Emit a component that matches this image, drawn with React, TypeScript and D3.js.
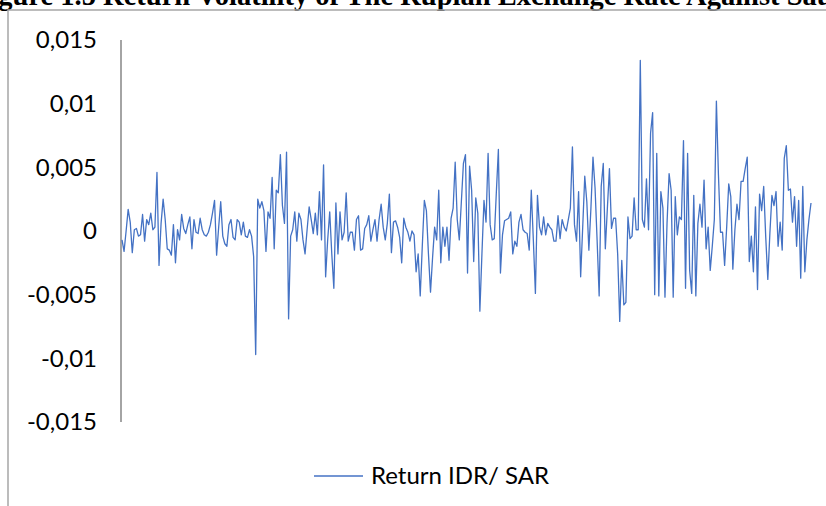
import React from "react";
import * as d3 from "d3";

const title = "Figure 1.5 Return Volatility of The Rupiah Exchange Rate Against Saudi Riyal";
const seriesName = "Return IDR/ SAR";
const yTicks = [0.015, 0.01, 0.005, 0, -0.005, -0.01, -0.015];
const yTickLabels = ["0,015", "0,01", "0,005", "0", "-0,005", "-0,01", "-0,015"];

// daily return (in units of 0.001)
const returnIdrSar = [
  -0.7, -1.6, 0.0, 1.7, 0.7, -1.7, 0.1, 0.2, -0.4, -0.3, 1.3, -0.8, 0.9, 0.5, 1.4, 0.1, 0.3, 4.6,
  -2.7, 0.6, 2.5, 0.9, -1.4, -1.5, -1.9, 0.5, -2.5, 0.1, -0.7, 1.3, 0.2, -0.2, 0.5, 1.1, -1.4, 0.9,
  -0.1, -0.2, 1.0, 0.1, -0.3, -0.4, -0.1, 0.5, 1.4, 2.4, -1.9, 0.3, 2.3, -0.4, -1.0, -1.2, 0.5, 0.9,
  -0.5, -0.7, 0.9, 0.7, -0.3, 0.7, -0.4, -0.5, 0.1, -0.4, -2.0, -9.7, 2.5, 1.8, 2.3, 1.6, -1.6, 1.5,
  1.0, 4.2, -1.4, 3.2, 3.0, 6.0, 2.0, 0.6, 6.2, -6.9, -0.4, 0.1, 1.5, -0.8, 1.4, 0.9, -0.7, -1.8,
  0.1, 1.9, 0.9, -0.2, 1.4, -0.3, 3.1, -0.7, 5.2, -3.6, -0.7, 1.5, -1.8, -4.5, 2.2, -1.8, 1.5, -0.7,
  -0.1, 3.0, -0.8, -0.1, -0.1, -1.5, 0.9, 1.2, -1.5, -1.4, 0.2, 0.5, 1.2, -0.8, 0.1, 0.9, -0.8, 0.9,
  2.1, 0.3, -0.7, 0.6, 2.9, -1.7, 0.7, 0.8, 0.3, -0.5, -2.5, 1.0, 0.3, -0.1, -0.8, 0.0, -0.3, -3.2,
  -1.8, -5.1, -1.2, 2.4, 1.6, -1.8, -4.8, -2.1, 0.3, -0.7, 3.2, -2.5, 0.3, -1.2, 0.3, -2.3, 1.0, 1.8,
  5.4, 0.9, -0.7, 2.3, 5.3, 6.0, -3.3, 5.1, 3.2, -2.4, 2.6, 1.4, -6.3, -1.8, 2.4, 0.7, 6.1, 0.5,
  -0.7, -0.6, 3.0, 6.4, -3.3, -0.3, 0.8, 0.9, 1.0, 1.5, -1.8, -0.8, -1.2, 0.7, 1.3, 0.1, -0.1, -0.2,
  -1.5, 3.2, -0.7, -4.9, 2.8, 0.3, -0.3, 1.1, -0.3, 0.6, 0.3, 0.1, -0.8, -0.8, 1.2, -0.6, 0.9, 0.3,
  0.0, 0.9, 1.8, 6.6, 0.5, -0.8, 3.1, -3.6, 0.3, 4.3, 2.3, -1.5, 1.8, 5.8, 3.4, -0.7, -5.1, 3.5,
  5.3, -1.4, 1.8, 4.9, 0.2, 1.0, 1.0, -1.8, -7.1, -2.3, -5.8, -5.6, 1.1, -0.6, -0.4, 2.6, 0.1, 0.1,
  13.4, 0.9, 0.3, 4.1, 0.1, 7.7, 9.3, -5.0, 6.1, -5.1, 3.1, 1.8, -5.2, 0.6, 4.5, 3.2, -5.2, 2.7,
  -0.3, 1.1, 0.9, 7.1, -4.5, 6.1, -3.1, -4.9, 2.8, -5.1, 0.6, 2.1, 0.3, 4.0, -1.4, 0.3, -3.1, -1.2,
  0.9, 10.2, 4.4, -0.1, -0.1, -2.7, 0.3, 3.7, 2.7, -3.0, 0.1, 2.1, 0.9, 3.9, 3.9, 4.9, 5.8, -2.4,
  -0.4, -3.2, 1.9, -4.6, 2.9, 1.6, 3.5, -0.5, -3.8, -0.2, 2.8, 2.0, 3.1, -1.2, 0.7, -1.5, 5.7, 6.7,
  3.2, 3.3, 0.7, 2.7, -1.2, 2.4, -3.7, 3.5, -3.2, -0.7, 0.9, 2.2,
].map((v) => v / 1000);

const width = 826;
const height = 506;
const plot = { left: 122, right: 811, top: 40, bottom: 422 };
const blue = "#4472C4";
const font = "Lato, 'Open Sans', sans-serif";

export default function App() {
  const x = d3.scaleLinear().domain([0, returnIdrSar.length - 1]).range([plot.left, plot.right]);
  const y = d3.scaleLinear().domain([-0.015, 0.015]).range([plot.bottom, plot.top]);
  const line = d3.line<number>().x((_, i) => x(i)).y((d) => y(d));

  return (
    <svg width={width} height={height} style={{ position: "absolute", left: 0, top: 0, background: "#fff" }}>
      {/* title, cut off by the page like in the source */}
      <text x={-27} y={5} fontFamily="'Liberation Serif', 'Times New Roman', serif" fontWeight="bold" fontSize={28.5} fill="#000">
        {title}
      </text>
      {/* chart frame */}
      <path d={`M8,${height} L8,10 L${width},10`} fill="none" stroke="#a6a6a6" strokeWidth={1.5} />

      {/* y axis */}
      <line x1={121} x2={121} y1={y(0.015)} y2={y(-0.015)} stroke="#868686" strokeWidth={1.5} />
      {yTicks.map((t, i) => (
        <text key={t} x={97} y={y(t)} dy="0.35em" textAnchor="end" fontFamily={font} fontSize={24} fill="#000">
          {yTickLabels[i]}
        </text>
      ))}

      <path d={line(returnIdrSar) ?? ""} fill="none" stroke={blue} strokeWidth={1.3} strokeLinejoin="round" />

      {/* legend */}
      <line x1={314} x2={363} y1={476} y2={476} stroke={blue} strokeWidth={1.3} />
      <text x={371} y={476} dy="0.35em" fontFamily={font} fontSize={24} fill="#000">
        {seriesName}
      </text>
    </svg>
  );
}
